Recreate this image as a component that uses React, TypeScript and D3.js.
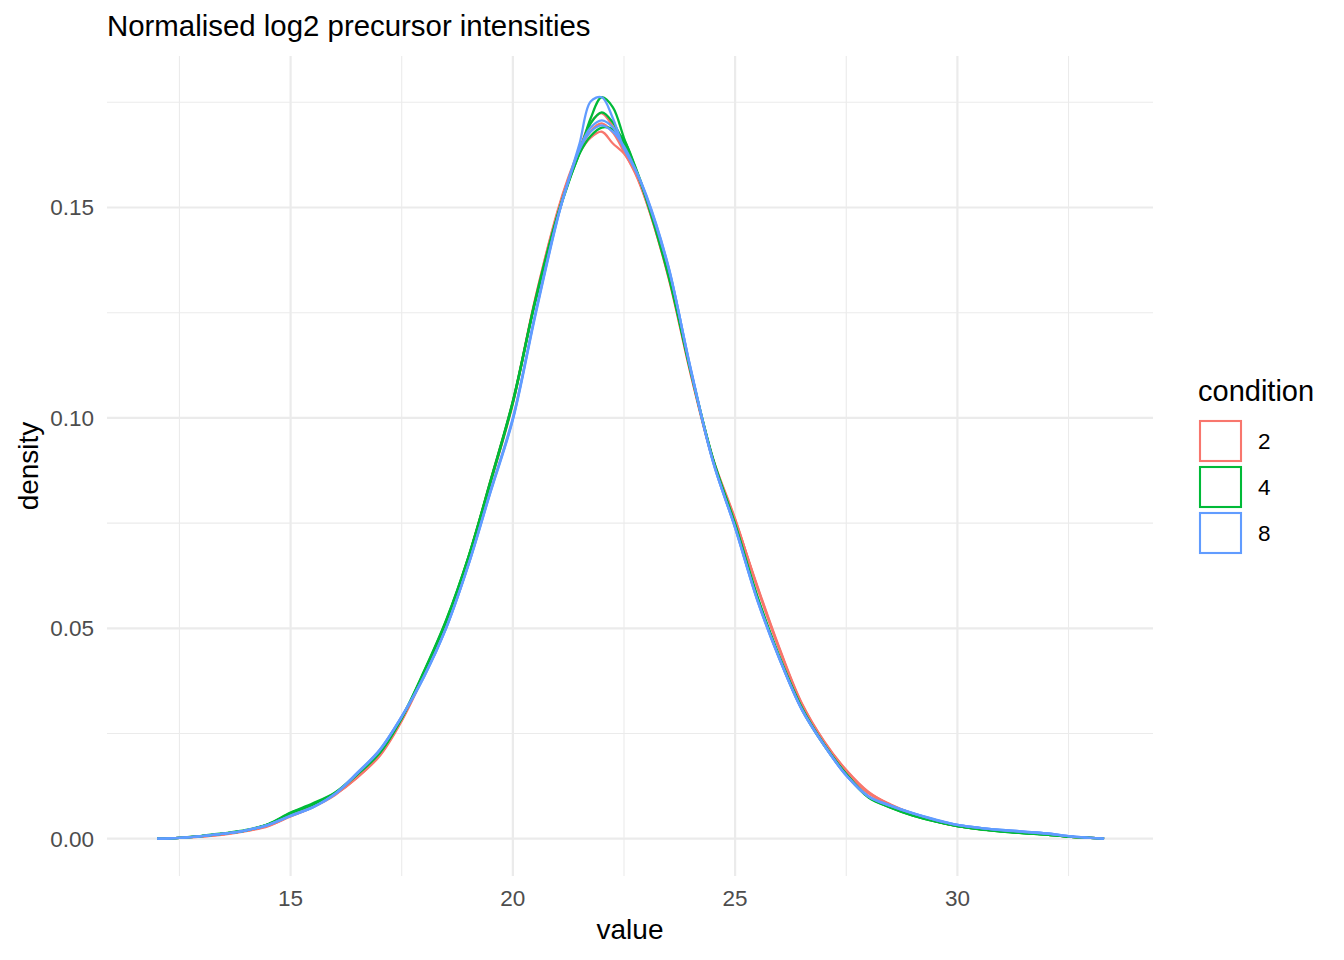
import * as d3 from 'd3';
import { useEffect } from 'react';

const xGrid = [
  12, 12.5, 13, 13.5, 14, 14.5, 15, 15.5, 16, 16.5, 17, 17.5, 18, 18.5, 19, 19.5, 20, 20.5, 21,
  21.25, 21.5, 21.75, 22, 22.25, 22.5, 22.75, 23,
  23.5, 24, 24.5, 25, 25.5, 26, 26.5, 27, 27.5, 28, 28.5, 29, 29.5, 30, 30.5, 31, 31.5, 32, 32.5, 33, 33.3,
];

// condition 2 samples
const cond2a = [0, 0.0002, 0.0005, 0.0011, 0.0019, 0.0031, 0.0053, 0.0075, 0.0104, 0.0148, 0.0198, 0.0283, 0.0392, 0.0512, 0.0668, 0.0852, 0.1040, 0.1282, 0.1490, 0.1572, 0.1640, 0.1702, 0.1724, 0.1692, 0.1640, 0.1588, 0.1518, 0.1338, 0.1108, 0.0902, 0.0758, 0.0598, 0.0450, 0.0318, 0.0228, 0.0160, 0.0108, 0.0080, 0.0059, 0.0043, 0.0031, 0.0024, 0.0019, 0.0015, 0.0011, 0.0005, 0.0002, 0];
const cond2b = [0, 0.0002, 0.0005, 0.0010, 0.0018, 0.0030, 0.0054, 0.0076, 0.0106, 0.0146, 0.0196, 0.0280, 0.0388, 0.0508, 0.0664, 0.0850, 0.1036, 0.1278, 0.1484, 0.1566, 0.1632, 0.1682, 0.1700, 0.1678, 0.1632, 0.1582, 0.1514, 0.1336, 0.1106, 0.0904, 0.0760, 0.0596, 0.0448, 0.0320, 0.0230, 0.0162, 0.0110, 0.0081, 0.0059, 0.0042, 0.0030, 0.0023, 0.0018, 0.0014, 0.0010, 0.0005, 0.0002, 0];
const cond2c = [0, 0.0002, 0.0006, 0.0011, 0.0019, 0.0032, 0.0055, 0.0077, 0.0105, 0.0145, 0.0199, 0.0282, 0.0390, 0.0510, 0.0666, 0.0846, 0.1034, 0.1280, 0.1486, 0.1568, 0.1630, 0.1666, 0.1680, 0.1652, 0.1628, 0.1584, 0.1516, 0.1334, 0.1104, 0.0900, 0.0756, 0.0600, 0.0452, 0.0322, 0.0232, 0.0163, 0.0111, 0.0080, 0.0058, 0.0042, 0.0031, 0.0024, 0.0018, 0.0014, 0.0011, 0.0005, 0.0002, 0];
// condition 4 samples
const cond4a = [0, 0.0002, 0.0007, 0.0013, 0.0021, 0.0035, 0.0062, 0.0084, 0.0110, 0.0155, 0.0205, 0.0288, 0.0398, 0.0520, 0.0670, 0.0852, 0.1040, 0.1276, 0.1478, 0.1560, 0.1630, 0.1712, 0.1762, 0.1738, 0.1665, 0.1596, 0.1520, 0.1338, 0.1112, 0.0902, 0.0744, 0.0572, 0.0428, 0.0308, 0.0222, 0.0152, 0.0098, 0.0074, 0.0055, 0.0041, 0.0030, 0.0023, 0.0017, 0.0013, 0.0010, 0.0005, 0.0002, 0];
const cond4b = [0, 0.0002, 0.0006, 0.0012, 0.0020, 0.0034, 0.0060, 0.0082, 0.0109, 0.0154, 0.0204, 0.0287, 0.0396, 0.0518, 0.0669, 0.0850, 0.1038, 0.1278, 0.1480, 0.1562, 0.1634, 0.1700, 0.1726, 0.1702, 0.1652, 0.1594, 0.1522, 0.1340, 0.1110, 0.0900, 0.0746, 0.0574, 0.0430, 0.0310, 0.0224, 0.0154, 0.0100, 0.0075, 0.0056, 0.0042, 0.0030, 0.0023, 0.0018, 0.0014, 0.0010, 0.0005, 0.0002, 0];
const cond4c = [0, 0.0002, 0.0006, 0.0012, 0.0020, 0.0034, 0.0061, 0.0081, 0.0108, 0.0152, 0.0203, 0.0286, 0.0395, 0.0516, 0.0667, 0.0848, 0.1036, 0.1274, 0.1476, 0.1558, 0.1628, 0.1670, 0.1690, 0.1686, 0.1660, 0.1598, 0.1524, 0.1342, 0.1112, 0.0904, 0.0748, 0.0576, 0.0432, 0.0312, 0.0224, 0.0153, 0.0099, 0.0074, 0.0055, 0.0041, 0.0030, 0.0022, 0.0017, 0.0013, 0.0010, 0.0005, 0.0002, 0];
// condition 8 samples
const cond8a = [0, 0.0002, 0.0006, 0.0012, 0.0020, 0.0033, 0.0054, 0.0074, 0.0106, 0.0156, 0.0210, 0.0290, 0.0384, 0.0500, 0.0650, 0.0824, 0.0995, 0.1240, 0.1470, 0.1565, 0.1652, 0.1752, 0.1762, 0.1712, 0.1640, 0.1592, 0.1526, 0.1356, 0.1118, 0.0898, 0.0738, 0.0566, 0.0426, 0.0306, 0.0222, 0.0150, 0.0100, 0.0078, 0.0060, 0.0045, 0.0033, 0.0026, 0.0021, 0.0017, 0.0013, 0.0006, 0.0002, 0];
const cond8b = [0, 0.0002, 0.0006, 0.0012, 0.0020, 0.0033, 0.0054, 0.0075, 0.0107, 0.0157, 0.0211, 0.0291, 0.0386, 0.0502, 0.0652, 0.0828, 0.1000, 0.1246, 0.1474, 0.1564, 0.1640, 0.1690, 0.1707, 0.1690, 0.1640, 0.1590, 0.1528, 0.1358, 0.1116, 0.0896, 0.0740, 0.0568, 0.0428, 0.0308, 0.0223, 0.0151, 0.0101, 0.0079, 0.0061, 0.0046, 0.0033, 0.0026, 0.0021, 0.0017, 0.0013, 0.0006, 0.0002, 0];
const cond8c = [0, 0.0002, 0.0006, 0.0012, 0.0020, 0.0033, 0.0055, 0.0075, 0.0106, 0.0155, 0.0209, 0.0290, 0.0385, 0.0501, 0.0651, 0.0826, 0.0998, 0.1244, 0.1472, 0.1562, 0.1638, 0.1680, 0.1695, 0.1680, 0.1645, 0.1592, 0.1530, 0.1360, 0.1114, 0.0897, 0.0739, 0.0567, 0.0427, 0.0307, 0.0222, 0.0150, 0.0100, 0.0078, 0.0060, 0.0045, 0.0033, 0.0026, 0.0020, 0.0016, 0.0012, 0.0006, 0.0002, 0];

const conditions = ['2', '4', '8'];
const colours = ['#F8766D', '#00BA38', '#619CFF'];
const samples = [
  { condition: '2', values: cond2a },
  { condition: '2', values: cond2b },
  { condition: '2', values: cond2c },
  { condition: '4', values: cond4a },
  { condition: '4', values: cond4b },
  { condition: '4', values: cond4c },
  { condition: '8', values: cond8a },
  { condition: '8', values: cond8b },
  { condition: '8', values: cond8c },
];

const xMajor = [15, 20, 25, 30];
const xMinor = [12.5, 17.5, 22.5, 27.5, 32.5];
const yMajor = [0, 0.05, 0.1, 0.15];
const yMinor = [0.025, 0.075, 0.125, 0.175];

const W = 1344;
const H = 960;
const FONT = '"Liberation Sans", Arial, Helvetica, sans-serif';

export default function App() {
  useEffect(() => {
    document.body.style.margin = '0';
  }, []);

  // panel: 107..1153 x 56..876 (ggplot adds 5% either side)
  const x = d3.scaleLinear().domain([10.87, 34.4]).range([107, 1153]);
  const y = d3.scaleLinear().domain([-0.00886, 0.186]).range([876, 56]);
  const colour = d3.scaleOrdinal<string, string>().domain(conditions).range(colours);

  const line = d3
    .line<number>()
    .x((_, i) => x(xGrid[i]))
    .y((d) => y(d))
    .curve(d3.curveCatmullRom.alpha(0.5));

  const [px0, px1] = x.range();
  const [py1, py0] = y.range();

  return (
    <svg width={W} height={H} style={{ display: 'block', background: '#fff' }} fontFamily={FONT}>
      {/* grid */}
      <g stroke="#EBEBEB" fill="none">
        {yMinor.map((v) => (
          <line key={'ym' + v} x1={px0} x2={px1} y1={y(v)} y2={y(v)} strokeWidth={1.1} />
        ))}
        {xMinor.map((v) => (
          <line key={'xm' + v} x1={x(v)} x2={x(v)} y1={py0} y2={py1} strokeWidth={1.1} />
        ))}
        {yMajor.map((v) => (
          <line key={'yM' + v} x1={px0} x2={px1} y1={y(v)} y2={y(v)} strokeWidth={2.2} />
        ))}
        {xMajor.map((v) => (
          <line key={'xM' + v} x1={x(v)} x2={x(v)} y1={py0} y2={py1} strokeWidth={2.2} />
        ))}
      </g>

      {/* density lines */}
      <g fill="none" strokeWidth={2.3} strokeLinejoin="round">
        {samples.map((s, i) => (
          <path key={i} d={line(s.values) ?? ''} stroke={colour(s.condition)} />
        ))}
      </g>

      {/* tick labels */}
      <g fill="#4D4D4D" fontSize={22.5}>
        {xMajor.map((v) => (
          <text key={'xt' + v} x={x(v)} y={906} textAnchor="middle">
            {v}
          </text>
        ))}
        {yMajor.map((v) => (
          <text key={'yt' + v} x={94} y={y(v) + 8} textAnchor="end">
            {d3.format('.2f')(v)}
          </text>
        ))}
      </g>

      {/* axis titles */}
      <text x={(px0 + px1) / 2} y={939} textAnchor="middle" fontSize={28} fill="#000">
        value
      </text>
      <text
        transform={`translate(38, ${(py0 + py1) / 2}) rotate(-90)`}
        textAnchor="middle"
        fontSize={28}
        fill="#000"
      >
        density
      </text>

      {/* title */}
      <text x={107} y={36} fontSize={29.4} fill="#000">
        Normalised log2 precursor intensities
      </text>

      {/* legend */}
      <g>
        <text x={1198} y={401} fontSize={29} fill="#000">
          condition
        </text>
        {conditions.map((c, i) => (
          <g key={c} transform={`translate(1199, ${420 + i * 46})`}>
            <rect x={1} y={1} width={41} height={40} fill="#fff" stroke={colour(c)} strokeWidth={2.1} />
            <text x={59} y={29} fontSize={22.5} fill="#000">
              {c}
            </text>
          </g>
        ))}
      </g>
    </svg>
  );
}
